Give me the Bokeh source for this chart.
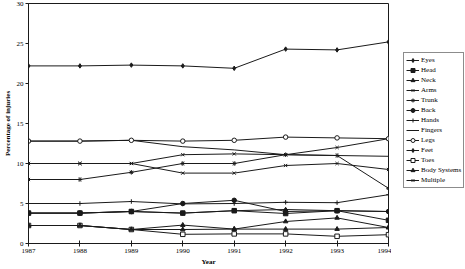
from bokeh.plotting import figure
from bokeh.models import Range1d, FixedTicker, Legend, LegendItem
from bokeh.layouts import row
from bokeh.embed import file_html
from bokeh.resources import INLINE

years = [1987, 1988, 1989, 1990, 1991, 1992, 1993, 1994]
eyes = [22.2, 22.2, 22.3, 22.2, 21.9, 24.3, 24.2, 25.2]
head = [3.8, 3.8, 4.0, 3.8, 4.1, 3.75, 4.1, 2.9]
neck = [2.25, 2.25, 1.75, 2.3, 1.8, 2.75, 3.2, 2.0]
arms = [10.0, 10.0, 10.0, 11.1, 11.2, 11.1, 12.0, 13.1]
trunk = [8.0, 8.0, 8.9, 10.0, 10.0, 11.1, 11.0, 6.9]
back = [3.8, 3.8, 4.0, 5.0, 5.4, 4.0, 4.1, 4.0]
hands = [5.0, 5.0, 5.25, 4.95, 5.0, 5.15, 5.1, 6.1]
fingers = [12.8, 12.8, 12.9, 12.1, 11.7, 11.1, 11.0, 10.9]
legs = [12.8, 12.8, 12.9, 12.8, 12.9, 13.3, 13.2, 13.1]
feet = [3.8, 3.8, 4.0, 3.8, 4.1, 4.25, 4.1, 4.0]
toes = [2.25, 2.25, 1.75, 1.15, 1.2, 1.2, 0.9, 1.1]
body_systems = [2.25, 2.25, 1.75, 1.75, 1.8, 1.8, 1.8, 2.0]
multiple = [10.0, 10.0, 10.0, 8.8, 8.8, 9.75, 10.0, 9.25]

y_ticks = [0, 5, 10, 15, 20, 25, 30]

series = [
    ("Eyes", eyes, "diamond", True),
    ("Head", head, "square", True),
    ("Neck", neck, "triangle", True),
    ("Arms", arms, "x", True),
    ("Trunk", trunk, "asterisk", True),
    ("Back", back, "circle", True),
    ("Hands", hands, "cross", True),
    ("Fingers", fingers, None, True),
    ("Legs", legs, "circle", False),
    ("Feet", feet, "diamond", True),
    ("Toes", toes, "square", False),
    ("Body Systems", body_systems, "triangle", True),
    ("Multiple", multiple, "x", True),
]

FONT = "Liberation Serif"
INK = "#1a1a1a"

p = figure(width=391, height=269, output_backend="svg", toolbar_location=None,
           x_range=Range1d(1987, 1994), y_range=Range1d(0, 30),
           min_border_left=24, min_border_right=3, min_border_top=3, min_border_bottom=26)
p.background_fill_color = "white"
p.border_fill_color = "white"
p.outline_line_color = INK
p.outline_line_width = 1
p.xgrid.visible = False
p.ygrid.visible = False

for ax in (p.xaxis[0], p.yaxis[0]):
    ax.axis_line_color = INK
    ax.major_tick_line_color = INK
    ax.minor_tick_line_color = None
    ax.major_label_text_font = FONT
    ax.major_label_text_font_size = "7px"
    ax.major_label_text_color = "black"
    ax.axis_label_text_font = FONT
    ax.axis_label_text_font_size = "7px"
    ax.axis_label_text_font_style = "bold"
    ax.axis_label_text_color = "black"
    ax.major_label_standoff = 2
    ax.axis_label_standoff = 2

p.xaxis.ticker = FixedTicker(ticks=years)
p.xaxis.major_tick_in = 3
p.xaxis.major_tick_out = 3
p.xaxis.axis_label = "Year"
p.yaxis.ticker = FixedTicker(ticks=y_ticks)
p.yaxis.major_tick_in = 0
p.yaxis.major_tick_out = 3
p.yaxis.axis_label = "Percentage of injuries"

# legend panel (its swatch renderers sit outside the visible range)
q = figure(width=74, height=269, output_backend="svg", toolbar_location=None,
           x_range=Range1d(0, 1), y_range=Range1d(0, 1),
           min_border_left=0, min_border_right=0, min_border_top=0, min_border_bottom=0)
q.axis.visible = False
q.xgrid.visible = False
q.ygrid.visible = False
q.outline_line_color = None
q.background_fill_color = "white"
q.border_fill_color = "white"

items = []
for name, vals, marker, filled in series:
    p.line(years, vals, line_color=INK, line_width=1)
    rs = [q.line([5, 6], [5, 6], line_color=INK, line_width=1)]
    if marker is not None:
        style = dict(marker=marker, size=4.5, line_color=INK, line_width=1,
                     fill_color=INK if filled else "white")
        p.scatter(years, vals, **style)
        rs.append(q.scatter([5], [5], **style))
    items.append(LegendItem(label=name, renderers=rs))

legend = Legend(items=items, location=(12, 55))
legend.border_line_color = INK
legend.border_line_width = 1
legend.background_fill_color = "white"
legend.background_fill_alpha = 1
legend.label_text_font = FONT
legend.label_text_font_size = "7px"
legend.label_text_color = "black"
legend.label_height = 10
legend.glyph_height = 10
legend.glyph_width = 13
legend.label_standoff = 2
legend.spacing = 0
legend.padding = 2
legend.margin = 0
q.add_layout(legend, "center")

layout = row(p, q, spacing=0)
open("out.html", "w").write(file_html(layout, INLINE))
